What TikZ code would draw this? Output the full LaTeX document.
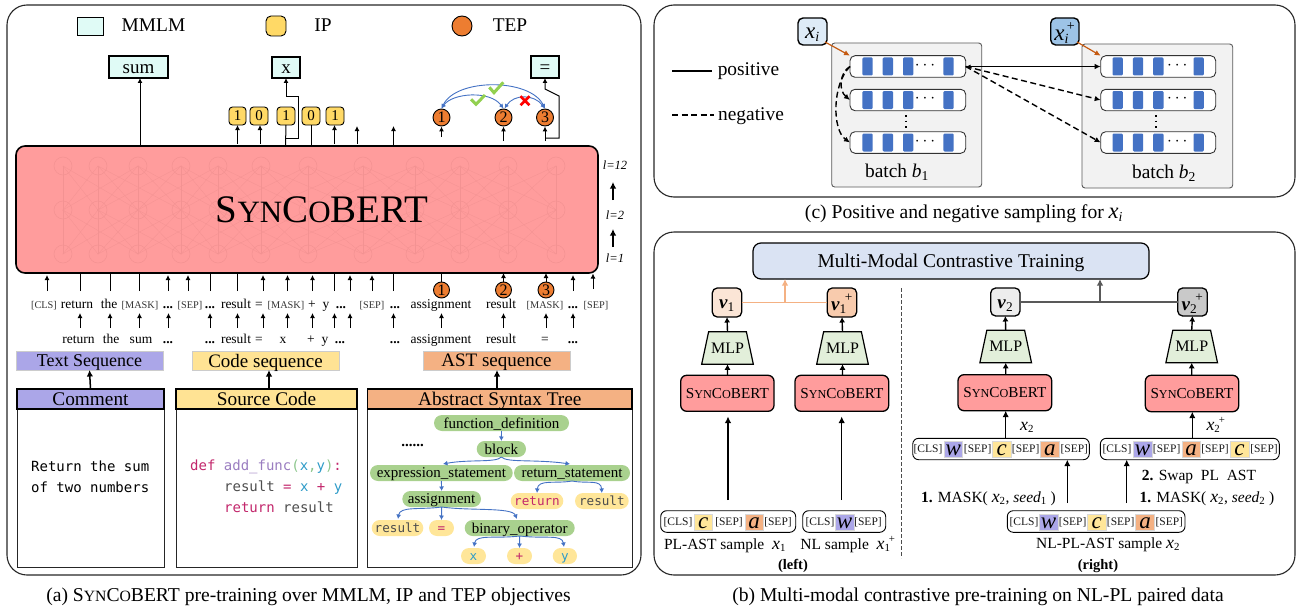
\documentclass[tikz,border=0pt]{standalone}
\usepackage{fontspec}
\usepackage{graphicx}
\setmainfont{Liberation Serif}
\newfontfamily\cmono{DejaVu Sans Mono}
\usetikzlibrary{arrows.meta,shapes.geometric,calc}
\newcommand\fs[1]{\fontsize{#1}{#1}\selectfont}
\newcommand\SCB[2]{{\fs{#1}S\fs{#2}YN\fs{#1}C\fs{#2}O\fs{#1}BERT}}
\newcommand\xx{\scalebox{1.15}{\textit{x}}}
\newcommand\xs[1]{\xx\textsubscript{#1}}
\newcommand\xsp[1]{\xx\textsubscript{#1}\kern-.1em\raisebox{.1em}{\textsuperscript{+}}}
\newcommand\vb{\textbf{\textit{v}}}
\definecolor{cyanbox}{HTML}{E0FBF6}
\definecolor{ipc}{HTML}{FFD966}
\definecolor{tepc}{HTML}{ED7D31}
\definecolor{redb}{HTML}{FF9C9C}
\definecolor{purp}{HTML}{ABA6E8}
\definecolor{yel}{HTML}{FFE394}
\definecolor{ora}{HTML}{F4B183}
\definecolor{bl}{HTML}{4472C4}
\definecolor{grn}{HTML}{A9D18E}
\definecolor{ylt}{HTML}{FFE699}
\definecolor{pink}{HTML}{C2266B}
\definecolor{vio}{HTML}{9A7DC0}
\definecolor{grp}{HTML}{8CC68C}
\definecolor{cy}{HTML}{2E9BC8}
\definecolor{gy}{HTML}{4D4D4D}
\definecolor{mlpg}{HTML}{E2EFDA}
\definecolor{mmc}{HTML}{DAE3F3}
\definecolor{v1c}{HTML}{FBE5D6}
\definecolor{v1d}{HTML}{F8CBAD}
\definecolor{xia}{HTML}{DEEBF7}
\definecolor{xib}{HTML}{9DC3E6}
\definecolor{chk}{HTML}{92D050}
\definecolor{oarc}{HTML}{C55A11}
\definecolor{nnc}{HTML}{F39292}
\newcommand\bx[7][]{%
  \pgfmathsetmacro\bw{#5-#3}\pgfmathsetmacro\bh{#6-#4}%
  \pgfmathsetmacro\bcx{(#5+#3)/2}\pgfmathsetmacro\bcy{(#6+#4)/2}%
  \node[minimum width=\bw pt,minimum height=\bh pt,inner sep=0pt,outer sep=0pt,#1] (#2) at (\bcx,\bcy) {#7};}
\newcommand\tok[5][]{\node[anchor=base,inner sep=0pt,#1] (#2) at (#3,#4) {#5};}
\tikzset{
  tb/.style={text depth=0pt,execute at begin node={\vrule height .66em depth 0pt width 0pt\relax}},
  panel/.style={draw=black!85,line width=1.1pt,rounded corners=20pt},
  mm/.style={draw=black,line width=1.1pt,fill=cyanbox,font=\fs{19},tb},
  ipn/.style={draw=black,line width=.9pt,fill=ipc,rounded corners=3.5pt,font=\fs{15},tb},
  tepn/.style={circle,draw=black,line width=.9pt,fill=tepc,minimum size=17pt,inner sep=0pt,font=\fs{16}},
  arr/.style={-{Latex[length=5pt,width=5pt]},line width=1pt,black},
  lin/.style={line width=1pt,black},
  arrb/.style={-{Latex[length=6.5pt,width=6.5pt]},line width=1.5pt,black},
  hd/.style={draw=black,line width=1.1pt,font=\fs{19.3},tb},
  sq/.style={draw=black!20,line width=.6pt,font=\fs{19},tb},
  t1/.style={font=\fs{13.5}},
  t2/.style={font=\fs{10.3},text=black!80},
  dotsn/.style={font=\fs{13.5}\bfseries},
  code/.style={anchor=base west,inner sep=0pt,font=\fs{14}\cmono},
  gn/.style={fill=grn,rounded corners=8pt,font=\fs{15},tb},
  yn/.style={fill=ylt,rounded corners=8pt,font=\fs{12.6}\cmono,tb},
  ta/.style={-{Latex[length=4.5pt,width=5pt]},line width=.9pt,bl},
  batch/.style={draw=black!65,line width=.9pt,fill=black!5,rounded corners=3pt},
  rowb/.style={draw=black!80,line width=.9pt,fill=white,rounded corners=5pt},
  cell/.style={fill=bl,rounded corners=1.2pt,minimum width=10.4pt,minimum height=18pt,inner sep=0pt},
  xbox/.style={draw=black,line width=1.4pt,rounded corners=5pt,font=\fs{20},tb},
  oar/.style={-{Latex[length=6pt,width=5.5pt]},line width=1.2pt,draw=oarc},
  vbox/.style={draw=black,line width=1.3pt,rounded corners=5pt,font=\fs{19},tb},
  mlp/.style={trapezium,trapezium stretches=true,draw=black,line width=1.2pt,fill=mlpg,minimum width=51.7pt,minimum height=32.5pt,inner sep=0pt,outer sep=0pt,font=\fs{16}},
  scb/.style={draw=black,line width=1.3pt,fill=redb,rounded corners=6pt,font=\fs{15.2},tb},
  smp/.style={draw=black,line width=.9pt,rounded corners=6pt},
  st/.style={font=\fs{11.5},text=black!90},
  ctk/.style={draw=black!15,line width=.5pt,minimum width=18.7pt,minimum height=16pt,inner sep=0pt,font=\fs{23}\itshape,text height=12pt,text depth=0pt},
  lab/.style={font=\fs{15.5},anchor=base},
  capt/.style={font=\fs{19.6},anchor=base,inner sep=0pt},
  ar2/.style={-{Latex[length=5.5pt,width=6pt]},line width=1.4pt},
  dsh/.style={-{Latex[length=6pt,width=5.5pt]},line width=1.4pt,dash pattern=on 6pt off 3.5pt},
  tw/.style={{Latex[length=4.5pt,width=4.5pt]}-{Latex[length=4.5pt,width=4.5pt]},line width=.9pt,bl},
  nn/.style={draw=nnc}
}
\begin{document}
\begin{tikzpicture}[x=1pt,y=-1pt]
\useasboundingbox (0,0) rectangle (1296,610);
% ---------- Panel a
\bx[panel]{pa}{7}{5}{641}{575}{}
\bx[draw=black,line width=.9pt,fill=cyanbox]{lgm}{77}{17}{103}{35}{}
\tok[font=\fs{19.4}]{lgmt}{153.5}{32}{MMLM}
\bx[draw=black,line width=.9pt,fill=ipc,rounded corners=5pt]{lgi}{266}{16}{286}{36}{}
\tok[font=\fs{19.4}]{lgit}{323}{32}{IP}
\node[circle,draw=black,line width=.9pt,fill=tepc,minimum size=20pt,inner sep=0pt] (lgt) at (462,26) {};
\tok[font=\fs{19.4}]{lgtt}{510}{32}{TEP}
\bx[mm]{sum}{109}{56}{168}{78}{sum}
\bx[mm]{mx}{272}{57}{300}{78}{x}
\bx[mm]{meq}{531}{56}{559}{78}{=}
% main box
\bx[draw=black,line width=1.6pt,fill=redb,rounded corners=9pt]{main}{16}{146}{598}{273}{}
\foreach \i/\x in {1/63,2/98,3/138,4/181,5/218,6/261,7/308,8/363,9/415,10/460,11/508,12/556}{
  \coordinate (nt\i) at (\x,166);
  \coordinate (nm\i) at (\x,210);
  \coordinate (nb\i) at (\x,254);
  \draw[nn,line width=.5pt] (nt\i) circle (9pt) (nm\i) circle (9pt) (nb\i) circle (9pt);
}
\foreach \i in {1,...,12}{\foreach \j in {1,...,12}{
  \pgfmathtruncatemacro\dd{abs(\i-\j)}
  \ifnum\dd<3
    \draw[nn,line width=.3pt] (nt\i) -- (nm\j) (nm\i) -- (nb\j);
  \fi
}}
\node[inner sep=0pt] (mainT) at (322,210) {\SCB{39}{31}};
% IP nodes
\bx[ipn]{ip1}{229}{107}{246}{125}{1}
\bx[ipn]{ip2}{250}{107}{268}{125}{0}
\bx[ipn]{ip3}{277}{107}{295}{125}{1}
\bx[ipn]{ip4}{302}{107}{320}{125}{0}
\bx[ipn]{ip5}{326}{107}{344}{125}{1}
\node[tepn] (t1) at (441.5,117.5) {1};
\node[tepn] (t2) at (503.5,117.5) {2};
\node[tepn] (t3) at (545,117.5) {3};
% upward arrows above main
\coordinate (aS) at (140,145);
\draw[arr] (aS) -- (aS |- sum.south);
\foreach \n/\x/\y in {a1/237.5/144,a2/260/144,a3/334.5/144}{\coordinate (\n) at (\x,\y);}
\draw[arr] (a1) -- (a1 |- ip1.south);
\draw[arr] (a2) -- (a2 |- ip2.south);
\draw[arr] (a3) -- (a3 |- ip5.south);
\coordinate (a4) at (285.5,146);\coordinate (a5) at (311,146);
\draw[lin] (a4) -- (ip3.south);
\draw[lin] (a5) -- (ip4.south);
\coordinate (a4b) at (285.5,138);\coordinate (a4c) at (298,138);\coordinate (a4d) at (298,96);\coordinate (a4e) at (286,96);
\draw[arr] (a4b) -- (a4c) -- (a4d) -- (a4e) -- (a4e |- mx.south);
\coordinate (f1) at (357,144);\coordinate (f1t) at (357,126);
\coordinate (f2) at (393.5,146);\coordinate (f2t) at (393.5,126);
\draw[arr] (f1) -- (f1t);
\draw[arr] (f2) -- (f2t);
\coordinate (g1) at (441.5,137);\coordinate (g2) at (503.5,141);\coordinate (g3) at (545,141);
\draw[arr] (g1) -- (t1.south);
\draw[arr] (g2) -- (t2.south);
\draw[arr] (g3) -- (t3.south);
\coordinate (e1) at (545,138);\coordinate (e2) at (559,138);\coordinate (e3) at (559,96);\coordinate (e4) at (545,89);
\draw[arr] (e1) -- (e2) -- (e3) -- (e4) -- (e4 |- meq.south);
% TEP arcs
\draw[tw] (t1.north) .. controls (456,78) and (530,78) .. (t3.north);
\draw[tw] (t1.north) .. controls (452,93) and (490,90) .. (t2.north);
\draw[tw] ($(t2.north)+(1,0)$) .. controls (514,94) and (534,94) .. (t3.north);
\draw[chk,line width=3pt] (471,99.3) -- (476,104.3) -- (485,95);
\draw[chk,line width=3pt] (489.3,87.3) -- (494,92.7) -- (503.3,82.3);
\draw[red,line width=2.6pt] (520.5,96.2) -- (529.5,105.2) (520.5,105.2) -- (529.5,96.2);
% layer labels
\tok[font=\fs{12.5}\itshape]{l12}{615}{169}{l=12}
\tok[font=\fs{12.5}\itshape]{l2}{615}{219}{l=2}
\tok[font=\fs{12.5}\itshape]{l1}{615}{262}{l=1}
\coordinate (la2a) at (613,200);\coordinate (la2b) at (613,182);
\coordinate (la1a) at (613,247);\coordinate (la1b) at (613,229);
\draw[arrb,line width=2pt] (la2a) -- (la2b);
\draw[arrb,line width=2pt] (la1a) -- (la1b);
% token row 1
\tok[t2]{r1}{44}{308}{[CLS]}
\tok[t1]{r2}{77}{308}{return}
\tok[t1]{r3}{109}{308}{the}
\tok[t2]{r4}{140}{308}{[MASK]}
\tok[dotsn]{r5}{168}{308}{...}
\tok[t2]{r6}{190}{308}{[SEP]}
\tok[dotsn]{r7}{210}{308}{...}
\tok[t1]{r8}{236}{308}{result}
\tok[t1]{r9}{259}{308}{=}
\tok[t2]{r10}{286}{308}{[MASK]}
\tok[t1]{r11}{312}{308}{+}
\tok[t1]{r12}{326}{308}{y}
\tok[dotsn]{r13}{341}{308}{...}
\tok[t2]{r14}{372}{308}{[SEP]}
\tok[dotsn]{r15}{395}{308}{...}
\tok[t1]{r16}{441}{308}{assignment}
\tok[t1]{r17}{501}{308}{result}
\tok[t2]{r18}{545}{308}{[MASK]}
\tok[dotsn]{r19}{573}{308}{...}
\tok[t2]{r20}{596}{308}{[SEP]}
% token row 2
\tok[t1]{w1}{78.5}{343}{return}
\tok[t1]{w2}{111}{343}{the}
\tok[t1]{w3}{141}{343}{sum}
\tok[dotsn]{w4}{168}{343}{...}
\tok[dotsn]{w5}{210}{343}{...}
\tok[t1]{w6}{236}{343}{result}
\tok[t1]{w7}{259}{343}{=}
\tok[t1]{w8}{283}{343}{x}
\tok[t1]{w9}{311}{343}{+}
\tok[t1]{w10}{325}{343}{y}
\tok[dotsn]{w11}{340}{343}{...}
\tok[dotsn]{w12}{395}{343}{...}
\tok[t1]{w13}{441}{343}{assignment}
\tok[t1]{w14}{501}{343}{result}
\tok[t1]{w15}{545}{343}{=}
\tok[dotsn]{w16}{573}{343}{...}
% upper arrows
\foreach \i/\x in {1/47,2/168,3/188,4/263,5/287.5,6/312.5,7/350,8/372,9/573}{
  \coordinate (ua\i) at (\x,291);\coordinate (ub\i) at (\x,275);
  \draw[arr] (ua\i) -- (ub\i);}
\coordinate (ua10) at (593,289);\coordinate (ub10) at (593,273.5);
\draw[arr] (ua10) -- (ub10);
\foreach \i/\x in {1/80,2/110,3/139.5,4/210,5/237.5,6/334.5,7/393}{
  \coordinate (la\i) at (\x,291);\coordinate (lb\i) at (\x,273);
  \draw[lin] (la\i) -- (lb\i);}
\node[tepn,minimum size=16pt] (b1) at (441.5,290) {1};
\node[tepn,minimum size=16pt] (b2) at (503.5,290) {2};
\node[tepn,minimum size=16pt] (b3) at (546,290) {3};
\coordinate (b1t) at (441.5,273);\coordinate (b2t) at (503.5,273);\coordinate (b3t) at (546,273);
\draw[lin] (b1.north) -- (b1t);
\draw[arr] (b2.north) -- (b2t);
\draw[arr] (b3.north) -- (b3t);
% lower arrows
\foreach \i/\x in {1/80,2/110,3/139.5,4/168.5,5/210,6/237.5,7/263,8/287.5,9/312.5,10/334.5,11/350,12/393.5,13/441.5,14/503.5,15/546,16/573}{
  \coordinate (va\i) at (\x,328);\coordinate (vb\i) at (\x,313);
  \draw[arr] (va\i) -- (vb\i);}
% sequences
\bx[sq,fill=purp,font=\fs{18}]{tseq}{16}{351}{163}{370}{Text Sequence}
\bx[sq,fill=yel]{cseq}{192}{351}{339}{370}{Code sequence}
\bx[sq,fill=ora]{aseq}{423}{351}{570}{370}{AST sequence}
% source boxes
\bx[draw=black!85,line width=1pt]{cb}{17}{389}{164}{567}{}
\bx[hd,fill=purp]{ch}{17}{389}{164}{409}{Comment}
\bx[draw=black!85,line width=1pt]{sb}{176}{389}{357}{567}{}
\bx[hd,fill=yel]{sh}{176}{389}{357}{409}{Source Code}
\bx[draw=black!85,line width=1pt]{ab}{367.5}{389}{632}{567}{}
\bx[hd,fill=ora]{ah}{367.5}{389}{632}{409}{Abstract Syntax Tree}
\draw[arrb] (ch.north) -- (tseq.south);
\coordinate (cs) at (269,389);
\draw[arrb] (cs) -- (cs |- cseq.south);
\coordinate (as) at (497,389);
\draw[arrb] (as) -- (as |- aseq.south);
\node[code] (cm1) at (31,471) {Return the sum};
\node[code] (cm2) at (31,492) {of two numbers};
\node[code] (c1) at (190,470) {\textcolor{pink}{def} \textcolor{vio}{add\_func}\textcolor{grp}{(}\textcolor{cy}{x}\textcolor{grp}{,}\textcolor{cy}{y}\textcolor{grp}{)}\textcolor{pink}{:}};
\node[code] (c2) at (224,491) {\textcolor{gy}{result} \textcolor{pink}{=} \textcolor{cy}{x} \textcolor{pink}{+} \textcolor{cy}{y}};
\node[code] (c3) at (224,512.7) {\textcolor{pink}{return} \textcolor{gy}{result}};
% AST
\bx[gn]{fd}{434}{415}{569}{431}{function\_definition}
\bx[gn]{blk}{476.7}{441}{526}{457}{block}
\tok[font=\fs{15}\bfseries]{ast}{412.7}{446}{......}
\bx[gn]{es}{370}{465}{512.7}{481}{expression\_statement}
\bx[gn]{rs}{514}{465}{630}{481}{return\_statement}
\bx[gn]{asg}{402.3}{491}{481}{507}{assignment}
\bx[yn,text=pink]{ret}{510.7}{493}{563.3}{509}{return}
\bx[yn,text=gy]{res1}{575}{493}{628.7}{509}{result}
\bx[yn,text=gy]{res2}{371.7}{520}{423.3}{536}{result}
\bx[yn,text=pink]{eqn}{429}{520}{454}{536}{=}
\bx[gn]{bo}{464.7}{520}{574.7}{536}{binary\_operator}
\bx[yn,text=cy]{xn}{461}{548}{486}{564}{x}
\bx[yn,text=pink]{pn}{507}{548}{532}{564}{+}
\bx[yn,text=cy]{yyn}{552.7}{548}{577}{564}{y}
\draw[ta] (fd.south) -- (blk.north);
\draw[ta] (blk.south) .. controls (496,463) and (470,459) .. (443,464);
\draw[ta] (blk.south) .. controls (507,463) and (535,459) .. (570,464);
\draw[ta] (es.south) -- (asg.north);
\draw[ta] (rs.south) .. controls (555,484) and (538,479) .. (ret.north);
\draw[ta] (rs.south) .. controls (588,484) and (601,479) .. (res1.north);
\draw[ta] (asg.south) .. controls (420,510) and (400,506) .. (398,519);
\draw[ta] (asg.south) -- (eqn.north);
\draw[ta] (asg.south) .. controls (470,511) and (512,507) .. (517,519);
\draw[ta] (bo.south) .. controls (495,539) and (476,534) .. (474,547);
\draw[ta] (bo.south) -- (pn.north);
\draw[ta] (bo.south) .. controls (545,539) and (562,534) .. (564,547);
% caption a
\tok[capt]{capa}{308.5}{601}{(a) \SCB{19.6}{15.7} pre-training over MMLM, IP and TEP objectives}
% ---------- Panel c
\bx[panel]{pc}{654}{5}{1295}{197}{}
\coordinate (lp1) at (672,71);\coordinate (lp2) at (712,71);
\coordinate (ln1) at (672,115);\coordinate (ln2) at (714,115);
\draw[line width=1.3pt] (lp1) -- (lp2);
\draw[line width=1.3pt,dash pattern=on 6pt off 3.5pt] (ln1) -- (ln2);
\tok[font=\fs{19.4}]{pos}{748.5}{76}{positive}
\tok[font=\fs{19.4}]{neg}{751}{120}{negative}
\bx[batch]{b1b}{831.7}{43}{981.7}{187}{}
\bx[batch]{b2b}{1082}{44}{1232.7}{188}{}
\bx[xbox,fill=xia]{xi}{798}{18}{827}{45}{\xs{\textit{i}}}
\bx[xbox,fill=xib]{xip}{1050.7}{18}{1079}{45}{\xsp{\textit{i}}}
\foreach \nm/\xa/\xb in {p/850/965.7,q/1100.7/1215.7}{
  \foreach \rr/\ya/\yb in {1/55.7/77.3,2/89.3/110.7,3/131.7/153.3}{
    \bx[rowb]{\nm\rr}{\xa}{\ya}{\xb}{\yb}{}
  }
}
\foreach \rr in {1,2,3}{
  \foreach \k/\dx in {1/17.5,2/37.8,3/58.2,5/98.5}{
    \node[cell] (pc\rr\k) at ($(p\rr.west)+(\dx,0)$) {};
    \node[cell] (qc\rr\k) at ($(q\rr.west)+(\dx-0.5,0)$) {};
  }
  \node[font=\fs{17},inner sep=0pt] (pd\rr) at ($(p\rr.west)+(75,-1)$) {$\cdots$};
  \node[font=\fs{17},inner sep=0pt] (qd\rr) at ($(q\rr.west)+(76.6,-1)$) {$\cdots$};
}
\coordinate (v1a) at (906,115);\coordinate (v1b) at (906,129);
\coordinate (v2a) at (1156,115);\coordinate (v2b) at (1156,129);
\draw[line width=1.6pt,dash pattern=on 1.6pt off 4pt] (v1a) -- (v1b);
\draw[line width=1.6pt,dash pattern=on 1.6pt off 4pt] (v2a) -- (v2b);
\tok[font=\fs{19.4}]{bt1}{897}{177}{batch \textit{b}\textsubscript{1}}
\tok[font=\fs{19.4}]{bt2}{1164}{178}{batch \textit{b}\textsubscript{2}}
\coordinate (oa) at (825,42);\coordinate (ob) at (1077,42);
\draw[oar] (oa) -- (p1.north west);
\draw[oar] (ob) -- (q1.north west);
\draw[{Latex[length=5pt,width=4pt]}-{Latex[length=6pt,width=5.5pt]},line width=1.5pt] (p1.east) -- (q1.west);
\draw[dsh] (p1.east) -- (q2.west);
\draw[dsh] (p1.east) -- (q3.west);
\draw[dsh] (p1.west) .. controls (840,72) and (838,90) .. (p2.west);
\draw[dsh] (p1.west) .. controls (832,84) and (832,130) .. (p3.west);
\tok[capt]{capc}{964}{218.5}{(c) Positive and negative sampling for \xs{\textit{i}}}
% ---------- Panel b
\bx[panel]{pb}{654}{232}{1295}{575}{}
\bx[draw=black,line width=1.2pt,fill=mmc,rounded corners=8pt,font=\fs{19.5},tb]{mmt}{753}{243}{1149}{279}{Multi-Modal Contrastive Training}
\bx[vbox,fill=v1c]{v1}{712.3}{288}{741.7}{317}{\vb\textsubscript{1}}
\bx[vbox,fill=v1d]{v1p}{827.3}{288}{856.7}{317}{\vb\textsubscript{1}\kern-.1em\raisebox{.15em}{\textsuperscript{+}}}
\bx[vbox,fill=black!7]{v2}{990.7}{288}{1020}{316}{\vb\textsubscript{2}}
\bx[vbox,fill=black!21]{v2p}{1177.7}{288}{1207.3}{316}{\vb\textsubscript{2}\kern-.1em\raisebox{.15em}{\textsuperscript{+}}}
\draw[line width=1.3pt,ora] (v1.east) -- (v1p.west);
\draw[line width=1.3pt,black!65] (v2.east) -- (v2p.west);
\coordinate (ju) at (785,302.5);\coordinate (jv) at (1100,302);
\draw[-{Latex[length=6.5pt,width=6.5pt]},line width=1.3pt,ora] (ju) -- (ju |- mmt.south) ;
\draw[-{Latex[length=6.5pt,width=6.5pt]},line width=1.3pt,black!65] (jv) -- (jv |- mmt.south);
\node[mlp] (m1) at (727.5,348) {MLP};
\node[mlp] (m2) at (842.5,348) {MLP};
\node[mlp] (m3) at (1005.7,346.5) {MLP};
\node[mlp] (m4) at (1191.7,346.5) {MLP};
\bx[scb]{sc1}{680.7}{375.3}{774}{411.3}{\SCB{15.2}{12.2}}
\bx[scb]{sc2}{795}{375.3}{888.7}{411.3}{\SCB{15.2}{12.2}}
\bx[scb]{sc3}{958}{374.7}{1051.7}{410.7}{\SCB{15.2}{12.2}}
\bx[scb]{sc4}{1145.3}{375.3}{1238.7}{411.7}{\SCB{15.2}{12.2}}
\draw[ar2] (m1.north) -- (v1.south);
\draw[ar2] (m2.north) -- (v1p.south);
\draw[ar2] (m3.north) -- (v2.south);
\draw[ar2] (m4.north) -- (v2p.south);
\draw[ar2] (sc1.north -| m1) -- (m1.south);
\draw[ar2] (sc2.north -| m2) -- (m2.south);
\draw[ar2] (sc3.north -| m3) -- (m3.south);
\draw[ar2] (sc4.north -| m4) -- (m4.south);
\coordinate (dv1) at (901,288);\coordinate (dv2) at (901,558);
\draw[line width=1pt,black!70,dash pattern=on 3.5pt off 2.5pt] (dv1) -- (dv2);
% sample rows
\bx[smp]{ps}{660.7}{510.7}{795.7}{532.3}{}
\bx[smp]{ns}{802.7}{510.7}{885.7}{532.3}{}
\bx[smp]{ra}{912.7}{438.3}{1089.3}{459.7}{}
\bx[smp]{rb}{1100.3}{438.3}{1279.3}{459.7}{}
\bx[smp]{rc}{1007.3}{510.7}{1185}{532.3}{}
% PL-AST
\tok[st]{p1a}{678}{525}{[CLS]}
\node[ctk,fill=ylt] (p1b) at (703.3,522) {c};
\tok[st]{p1c}{729}{525}{[SEP]}
\node[ctk,fill=ora] (p1d) at (754.2,522) {a};
\tok[st]{p1e}{778}{525}{[SEP]}
% NL
\tok[st]{n1a}{820}{525}{[CLS]}
\node[ctk,fill=purp] (n1b) at (844.6,522) {w};
\tok[st]{n1c}{868}{525}{[SEP]}
% row A
\tok[st]{a1a}{928}{452.5}{[CLS]}
\node[ctk,fill=purp] (a1b) at (953.3,449.5) {w};
\tok[st]{a1c}{977.7}{452.5}{[SEP]}
\node[ctk,fill=ylt] (a1d) at (1001.7,449.5) {c};
\tok[st]{a1e}{1025.7}{452.5}{[SEP]}
\node[ctk,fill=ora] (a1f) at (1049.8,449.5) {a};
\tok[st]{a1g}{1074.3}{452.5}{[SEP]}
% row B
\tok[st]{b1a}{1117}{452.5}{[CLS]}
\node[ctk,fill=purp] (b1b) at (1142.5,449.5) {w};
\tok[st]{b1c}{1166.7}{452.5}{[SEP]}
\node[ctk,fill=ora] (b1d) at (1191.2,449.5) {a};
\tok[st]{b1e}{1215}{452.5}{[SEP]}
\node[ctk,fill=ylt] (b1f) at (1239.4,449.5) {c};
\tok[st]{b1g}{1264}{452.5}{[SEP]}
% row C
\tok[st]{c1a}{1024}{525}{[CLS]}
\node[ctk,fill=purp] (c1b) at (1048.6,522) {w};
\tok[st]{c1c}{1072.7}{525}{[SEP]}
\node[ctk,fill=ylt] (c1d) at (1096.7,522) {c};
\tok[st]{c1e}{1120.7}{525}{[SEP]}
\node[ctk,fill=ora] (c1f) at (1145,522) {a};
\tok[st]{c1g}{1169.3}{525}{[SEP]}
% arrows
\coordinate (k1) at (728,500);\coordinate (k1t) at (728,416.5);
\coordinate (k2) at (841.7,500);\coordinate (k2t) at (841.7,416.5);
\draw[arrb,line width=1.5pt] (k1) -- (k1t);
\draw[arrb,line width=1.5pt] (k2) -- (k2t);
\coordinate (k3) at (1005.7,438);\coordinate (k4) at (1192.3,438);
\draw[arrb,line width=1.5pt] (k3) -- (k3 |- sc3.south);
\draw[arrb,line width=1.5pt] (k4) -- (k4 |- sc4.south);
\coordinate (k5) at (1067.3,503);\coordinate (k6) at (1126.7,503);
\draw[arrb,line width=1.5pt] (k5) -- (k5 |- ra.south);
\draw[arrb,line width=1.5pt] (k6) -- (k6 |- rb.south);
% labels
\tok[lab]{lx2}{1027}{430}{\xs{2}}
\tok[lab]{lx2p}{1216}{430}{\xsp{2}}
\tok[lab]{lm1}{988.5}{502}{\textbf{1.} MASK( \xs{2}, \textit{seed}\textsubscript{1} )}
\tok[lab]{lsw}{1199}{480}{\textbf{2.} Swap\ \ PL\ \ AST}
\tok[lab]{lm2}{1207}{502}{\textbf{1.} MASK( \xs{2}, \textit{seed}\textsubscript{2} )}
\tok[lab]{lpl}{725}{549}{PL-AST sample\ \ \xs{1}}
\tok[lab]{lnl}{848}{549}{NL sample\ \ \xsp{1}}
\tok[lab]{lc}{1108}{548}{NL-PL-AST sample \xs{2}}
\tok[lab,font=\fs{14.5}\bfseries]{lleft}{793}{569}{(left)}
\tok[lab,font=\fs{14.5}\bfseries]{lright}{1098}{569}{(right)}
\tok[capt]{capb}{978}{601}{(b) Multi-modal contrastive pre-training on NL-PL paired data}
\end{tikzpicture}
\end{document}
